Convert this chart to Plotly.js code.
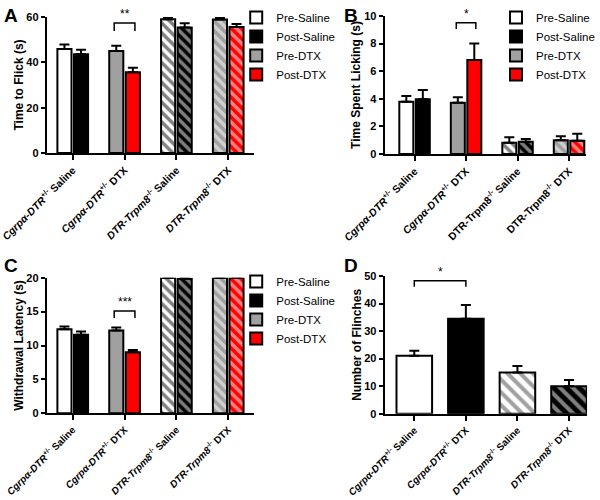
<!DOCTYPE html>
<html>
<head>
<meta charset="utf-8">
<script src="https://cdn.plot.ly/plotly-3.0.1.min.js"></script>
<style>html,body{margin:0;padding:0;background:#fff}#chart{width:600px;height:500px}</style>
</head>
<body>
<div id="chart"></div>
<script>
// ---- categories and tick labels ----
const categories = ['Cgrpa-DTR Saline', 'Cgrpa-DTR DTX', 'DTR-Trpm8 Saline', 'DTR-Trpm8 DTX'];
const salineCats = ['Cgrpa-DTR Saline', 'DTR-Trpm8 Saline'];
const dtxCats = ['Cgrpa-DTR DTX', 'DTR-Trpm8 DTX'];
const tickLabelsItalic = [
  '<i>Cgrpα-DTR</i><sup>+/-</sup> Saline',
  '<i>Cgrpα-DTR</i><sup>+/-</sup> DTX',
  '<i>DTR-Trpm8</i><sup>-/-</sup> Saline',
  '<i>DTR-Trpm8</i><sup>-/-</sup> DTX'
];
const tickLabelsB = [
  '<i>Cgrpα-DTR</i><sup>+/-</sup> Saline',
  '<i>Cgrpα-DTR</i><sup>+/-</sup> DTX',
  'DTR-Trpm8<sup>-/-</sup> Saline',
  'DTR-Trpm8<sup>-/-</sup> DTX'
];
const seriesNames = ['Pre-Saline', 'Post-Saline', 'Pre-DTX', 'Post-DTX'];

// ---- Panel A: Time to Flick (s) ----
const preSalineA = [45.9, 59.0];   const preSalineAErr = [2.0, 1.0];
const postSalineA = [43.6, 55.4];  const postSalineAErr = [1.9, 1.8];
const preDtxA = [45.0, 58.9];      const preDtxAErr = [2.3, 0.8];
const postDtxA = [35.6, 55.6];     const postDtxAErr = [2.0, 1.3];

// ---- Panel B: Time Spent Licking (s) ----
const preSalineB = [3.79, 0.82];   const preSalineBErr = [0.42, 0.4];
const postSalineB = [3.96, 0.89];  const postSalineBErr = [0.68, 0.2];
const preDtxB = [3.72, 0.99];      const preDtxBErr = [0.4, 0.3];
const postDtxB = [6.81, 0.96];     const postDtxBErr = [1.2, 0.5];

// ---- Panel C: Withdrawal Latency (s) ----
const preSalineC = [12.4, 19.95];  const preSalineCErr = [0.4, 0.05];
const postSalineC = [11.6, 19.85]; const postSalineCErr = [0.45, 0.12];
const preDtxC = [12.2, 19.97];     const preDtxCErr = [0.45, 0.03];
const postDtxC = [9.0, 19.97];     const postDtxCErr = [0.35, 0.03];

// ---- Panel D: Number of Flinches ----
const flinches = [21.0, 34.5, 15.0, 10.0];
const flinchesErr = [1.9, 5.0, 2.3, 2.2];

// ---- styles ----
const FONT = 'Liberation Sans, Arial, Helvetica, sans-serif';
const GRAY = '#a0a0a0';
const RED = '#ff0000';
const styles = {
  'Pre-Saline':  {color: 'white', bg: ['white', 'white'], fg: ['black', 'black']},
  'Post-Saline': {color: 'black', bg: ['black', 'black'], fg: ['white', 'white']},
  'Pre-DTX':     {color: GRAY, bg: [GRAY, GRAY], fg: ['white', 'white']},
  'Post-DTX':    {color: RED, bg: [RED, RED], fg: ['white', 'white']}
};

function barTrace(name, xs, ys, errs, xa, ya, legend, group, panel) {
  const s = styles[name];
  return {
    type: 'bar', name: name, x: xs, y: ys,
    xaxis: xa, yaxis: ya, legend: legend,
    offsetgroup: group, alignmentgroup: panel,
    cliponaxis: false, hoverinfo: 'skip',
    marker: {
      color: s.color,
      line: {color: 'black', width: 2},
      pattern: {shape: ['', '\\'], bgcolor: s.bg, fgcolor: s.fg, fillmode: 'overlay', size: 7, solidity: 0.5}
    },
    error_y: {type: 'data', symmetric: false, array: errs, arrayminus: errs.map(() => 0),
              color: 'black', thickness: 2, width: 5}
  };
}

const data = [
  barTrace('Pre-Saline', salineCats, preSalineA, preSalineAErr, 'x', 'y', 'legend', 'pre', 'A'),
  barTrace('Post-Saline', salineCats, postSalineA, postSalineAErr, 'x', 'y', 'legend', 'post', 'A'),
  barTrace('Pre-DTX', dtxCats, preDtxA, preDtxAErr, 'x', 'y', 'legend', 'pre', 'A'),
  barTrace('Post-DTX', dtxCats, postDtxA, postDtxAErr, 'x', 'y', 'legend', 'post', 'A'),

  barTrace('Pre-Saline', salineCats, preSalineB, preSalineBErr, 'x2', 'y2', 'legend2', 'pre', 'B'),
  barTrace('Post-Saline', salineCats, postSalineB, postSalineBErr, 'x2', 'y2', 'legend2', 'post', 'B'),
  barTrace('Pre-DTX', dtxCats, preDtxB, preDtxBErr, 'x2', 'y2', 'legend2', 'pre', 'B'),
  barTrace('Post-DTX', dtxCats, postDtxB, postDtxBErr, 'x2', 'y2', 'legend2', 'post', 'B'),

  barTrace('Pre-Saline', salineCats, preSalineC, preSalineCErr, 'x3', 'y3', 'legend3', 'pre', 'C'),
  barTrace('Post-Saline', salineCats, postSalineC, postSalineCErr, 'x3', 'y3', 'legend3', 'post', 'C'),
  barTrace('Pre-DTX', dtxCats, preDtxC, preDtxCErr, 'x3', 'y3', 'legend3', 'pre', 'C'),
  barTrace('Post-DTX', dtxCats, postDtxC, postDtxCErr, 'x3', 'y3', 'legend3', 'post', 'C'),

  {
    type: 'bar', name: 'Flinches', x: categories, y: flinches, xaxis: 'x4', yaxis: 'y4',
    showlegend: false, width: 0.69, cliponaxis: false, hoverinfo: 'skip',
    marker: {
      color: ['white', 'black', 'white', 'black'],
      line: {color: 'black', width: 2},
      pattern: {shape: ['', '', '\\', '\\'], bgcolor: ['white', 'black', 'white', 'black'],
                fgcolor: ['black', 'white', 'black', 'white'], fillmode: 'overlay', size: 9, solidity: 0.45}
    },
    error_y: {type: 'data', symmetric: false, array: flinchesErr, arrayminus: flinchesErr.map(() => 0),
              color: 'black', thickness: 2, width: 5}
  }
];

function xAxis(domain, range, anchor, ticktext, fs) {
  return {
    domain: domain, range: range, anchor: anchor, type: 'category',
    categoryorder: 'array', categoryarray: categories,
    tickvals: categories, ticktext: ticktext, tickangle: -45,
    showline: true, linecolor: 'black', linewidth: 2,
    ticks: 'outside', ticklen: 5, tickwidth: 2, tickcolor: 'black',
    tickfont: {family: FONT, size: fs, color: 'black', weight: 'bold'},
    showgrid: false, zeroline: false, fixedrange: true
  };
}
function yAxis(domain, range, dtick, anchor, title, standoff) {
  return {
    domain: domain, range: range, anchor: anchor, dtick: dtick, tick0: 0,
    showline: true, linecolor: 'black', linewidth: 2,
    ticks: 'outside', ticklen: 4, tickwidth: 2, tickcolor: 'black',
    tickfont: {family: FONT, size: 11, color: 'black', weight: 'bold'},
    showgrid: false, zeroline: false, fixedrange: true,
    title: {text: title, font: {family: FONT, size: 12, color: 'black', weight: 'bold'}, standoff: standoff}
  };
}
function legendAt(x, y) {
  return {x: x, y: y, xanchor: 'left', yanchor: 'top', bgcolor: 'rgba(0,0,0,0)',
          font: {family: FONT, size: 11.5, color: 'black'}, traceorder: 'normal', itemclick: false, itemdoubleclick: false};
}

function bracket(xref, yref, x0, x1, yTop, yBottom) {
  return {type: 'path', xref: xref, yref: yref,
          path: `M ${x0},${yBottom} L ${x0},${yTop} L ${x1},${yTop} L ${x1},${yBottom}`,
          line: {color: 'black', width: 1.5}};
}
function stars(xref, yref, x, y, text) {
  return {xref: xref, yref: yref, x: x, y: y, text: text, showarrow: false, yanchor: 'bottom',
          font: {family: FONT, size: 12, color: 'black'}};
}
function letter(x, y, text) {
  return {xref: 'paper', yref: 'paper', x: x, y: y, xanchor: 'left', yanchor: 'top', text: '<b>' + text + '</b>',
          showarrow: false, font: {family: FONT, size: 19, color: 'black'}};
}

const layout = {
  width: 600, height: 500,
  margin: {l: 0, r: 0, t: 0, b: 0},
  paper_bgcolor: 'white', plot_bgcolor: 'white',
  barmode: 'group', bargap: 0.36, bargroupgap: 0.15,
  font: {family: FONT, color: 'black'},
  showlegend: true,
  xaxis: xAxis([0.0783, 0.425], [-0.5, 3.5], 'y', tickLabelsItalic, 10.5),
  yaxis: yAxis([0.694, 0.966], [0, 60], 20, 'x', 'Time to Flick (s)', 0),
  xaxis2: xAxis([0.6433, 0.98], [-0.58, 3.33], 'y2', tickLabelsB, 10.5),
  yaxis2: yAxis([0.692, 0.968], [0, 10], 2, 'x2', 'Time Spent Licking (s)', 1),
  xaxis3: xAxis([0.0783, 0.425], [-0.5, 3.5], 'y3', tickLabelsItalic, 9.8),
  yaxis3: yAxis([0.1734, 0.4446], [0, 20], 5, 'x3', 'Withdrawal Latency (s)', 0),
  xaxis4: xAxis([0.6433, 0.9817], [-0.574, 3.35], 'y4', tickLabelsItalic, 9.8),
  yaxis4: yAxis([0.1726, 0.448], [0, 50], 10, 'x4', 'Number of Flinches', 0),
  legend: legendAt(0.395, 0.994),
  legend2: legendAt(0.83, 0.994),
  legend3: legendAt(0.395, 0.466),
  shapes: [
    bracket('x', 'y', 0.8, 1.2, 57.3, 53.8),
    bracket('x2', 'y2', 0.81, 1.19, 9.51, 9.06),
    bracket('x3', 'y3', 0.8, 1.2, 15.1, 14.05),
    bracket('x4', 'y4', 0, 1, 48.3, 46.1)
  ],
  annotations: [
    stars('x', 'y', 1, 57.3, '**'),
    stars('x2', 'y2', 1, 9.51, '*'),
    stars('x3', 'y3', 1, 15.1, '***'),
    stars('x4', 'y4', 0.5, 48.3, '*'),
    letter(0.003, 0.995, 'A'),
    letter(0.572, 0.995, 'B'),
    letter(0.003, 0.495, 'C'),
    letter(0.572, 0.495, 'D')
  ]
};

Plotly.newPlot('chart', data, layout, {staticPlot: true, displayModeBar: false});
</script>
</body>
</html>
